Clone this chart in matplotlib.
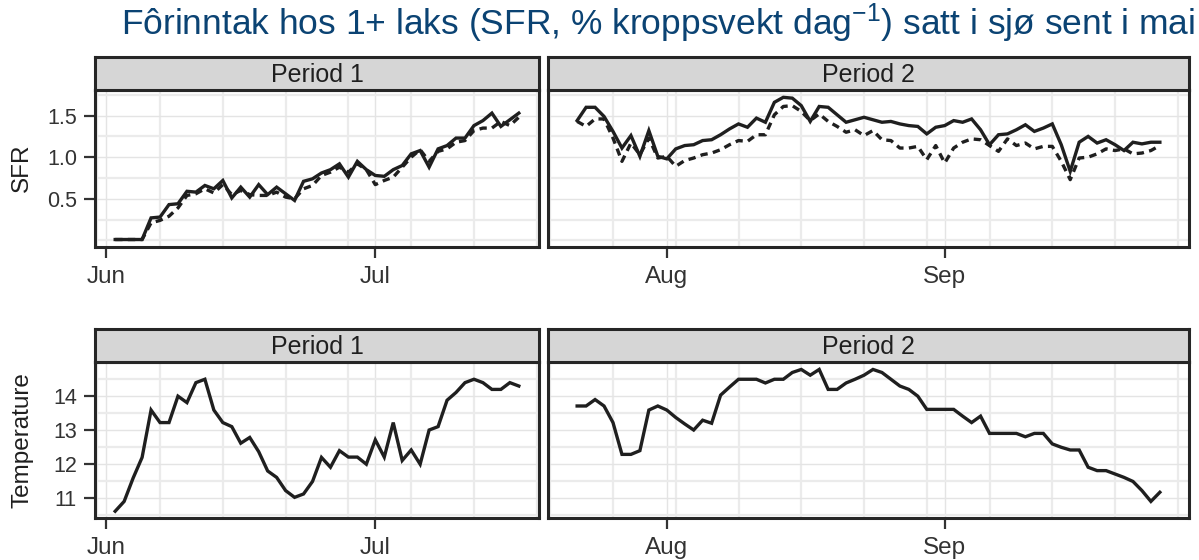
import matplotlib

matplotlib.use("Agg")

import matplotlib.dates as mdates
import matplotlib.pyplot as plt
import pandas as pd

plt.rcParams["font.family"] = ["Liberation Sans", "DejaVu Sans"]
plt.rcParams["mathtext.fontset"] = "custom"
plt.rcParams["mathtext.rm"] = "Liberation Sans"
plt.rcParams["mathtext.default"] = "regular"

# --- data (daily values) ---
p1_start, p1_end = "2015-06-02", "2015-07-17"
p2_start, p2_end = "2015-07-22", "2015-09-25"

sfr1_solid = [0.01, 0.01, 0.01, 0.01, 0.27, 0.28, 0.43, 0.44, 0.59, 0.58,
              0.66, 0.62, 0.72, 0.51, 0.64, 0.52, 0.67, 0.55, 0.64, 0.56,
              0.48, 0.71, 0.74, 0.81, 0.85, 0.92, 0.76, 0.95, 0.85, 0.78,
              0.77, 0.85, 0.90, 1.04, 1.08, 0.88, 1.10, 1.14, 1.23, 1.23,
              1.38, 1.44, 1.53, 1.37, 1.45, 1.53]
sfr1_dashed = [0.01, 0.01, 0.01, 0.01, 0.21, 0.24, 0.29, 0.39, 0.54, 0.56,
               0.62, 0.57, 0.67, 0.55, 0.60, 0.55, 0.54, 0.54, 0.58, 0.52,
               0.50, 0.62, 0.66, 0.78, 0.82, 0.88, 0.82, 0.92, 0.85, 0.67,
               0.72, 0.76, 0.88, 1.00, 1.09, 0.95, 1.07, 1.10, 1.18, 1.20,
               1.32, 1.35, 1.35, 1.43, 1.38, 1.48]
sfr2_solid = [1.44, 1.60, 1.60, 1.49, 1.31, 1.11, 1.26, 1.01, 1.32, 1.01,
              0.98, 1.10, 1.14, 1.15, 1.20, 1.21, 1.27, 1.34, 1.40, 1.36,
              1.47, 1.42, 1.66, 1.72, 1.71, 1.62, 1.43, 1.61, 1.60, 1.51,
              1.42, 1.45, 1.48, 1.45, 1.42, 1.43, 1.40, 1.38, 1.37, 1.28,
              1.36, 1.38, 1.44, 1.42, 1.46, 1.33, 1.15, 1.27, 1.28, 1.33,
              1.39, 1.31, 1.35, 1.40, 1.15, 0.83, 1.18, 1.25, 1.17, 1.21,
              1.15, 1.08, 1.18, 1.16, 1.18, 1.18]
sfr2_dashed = [1.43, 1.37, 1.46, 1.46, 1.23, 0.95, 1.17, 1.03, 1.23, 0.99,
               1.01, 0.89, 0.96, 0.99, 1.03, 1.05, 1.09, 1.15, 1.20, 1.19,
               1.27, 1.27, 1.51, 1.61, 1.62, 1.55, 1.44, 1.52, 1.43, 1.37,
               1.30, 1.33, 1.26, 1.32, 1.21, 1.20, 1.11, 1.11, 1.13, 0.97,
               1.14, 0.93, 1.11, 1.18, 1.22, 1.21, 1.14, 1.07, 1.22, 1.14,
               1.17, 1.10, 1.13, 1.13, 0.95, 0.73, 0.99, 1.00, 1.04, 1.10,
               1.08, 1.10, 1.04, 1.05, 1.08, 1.14]
temp1 = [10.60, 10.89, 11.58, 12.19, 13.59, 13.22, 13.22, 14.00, 13.81, 14.40,
         14.50, 13.59, 13.22, 13.10, 12.61, 12.78, 12.36, 11.79, 11.60, 11.21,
         11.01, 11.11, 11.48, 12.19, 11.90, 12.39, 12.20, 12.20, 11.99, 12.71,
         12.20, 13.22, 12.10, 12.41, 11.99, 13.00, 13.10, 13.88, 14.11, 14.40,
         14.50, 14.40, 14.20, 14.20, 14.40, 14.30]
temp2 = [13.71, 13.71, 13.90, 13.71, 13.22, 12.28, 12.28, 12.39, 13.59, 13.71,
         13.59, 13.37, 13.18, 13.00, 13.29, 13.20, 14.03, 14.27, 14.50, 14.50,
         14.50, 14.39, 14.50, 14.50, 14.70, 14.79, 14.62, 14.79, 14.20, 14.20,
         14.39, 14.50, 14.62, 14.79, 14.70, 14.50, 14.30, 14.20, 14.00, 13.61,
         13.61, 13.61, 13.61, 13.41, 13.22, 13.41, 12.90, 12.90, 12.90, 12.90,
         12.80, 12.90, 12.90, 12.59, 12.49, 12.41, 12.41, 11.90, 11.80, 11.80,
         11.70, 11.60, 11.48, 11.21, 10.89, 11.16]

sfr_ticks = [0.5, 1.0, 1.5]
sfr_minor = [0.0, 0.25, 0.75, 1.25, 1.75]
temp_ticks = [11, 12, 13, 14]
temp_minor = [10.5, 11.5, 12.5, 13.5, 14.5]

W, H = 1199, 560
INK = "#1f1f1f"
BORDER = "#262626"
GRID = "#ebebeb"

fig = plt.figure(figsize=(W / 100, H / 100), dpi=100)


def px_axes(x0, y0, x1, y1):
    return fig.add_axes([x0 / W, 1 - y1 / H, (x1 - x0) / W, (y1 - y0) / H])


def strip(x0, x1, y0, y1, label):
    s = px_axes(x0, y0, x1, y1)
    s.set_facecolor("#d6d6d6")
    s.set_xticks([])
    s.set_yticks([])
    for sp in s.spines.values():
        sp.set_color(BORDER)
        sp.set_linewidth(2.2)
    s.text(0.5, 0.45, label, ha="center", va="center", fontsize=18, color=INK,
           transform=s.transAxes)


def panel(box, xlim, ylim, ticks, minor, show_y):
    ax = px_axes(*box)
    ax.set_xlim(pd.Timestamp(xlim[0]), pd.Timestamp(xlim[1]))
    ax.set_ylim(*ylim)
    ax.xaxis.set_major_locator(mdates.MonthLocator())
    ax.xaxis.set_major_formatter(mdates.DateFormatter("%b"))
    ax.xaxis.set_minor_locator(mdates.WeekdayLocator(byweekday=mdates.SU))
    ax.set_yticks(ticks)
    ax.set_yticks(minor, minor=True)
    ax.grid(True, which="major", color="#e4e4e4", linewidth=1.0)
    ax.grid(True, which="minor", color=GRID, linewidth=1.6)
    ax.set_axisbelow(True)
    ax.tick_params(which="minor", length=0)
    ax.tick_params(axis="x", which="major", length=8, width=1.6, color="#333333",
                   labelsize=17.5, labelcolor="#333333", pad=6)
    ax.tick_params(axis="y", which="major", length=8, width=1.6, color="#333333",
                   labelsize=15.5, labelcolor="#333333", pad=5, left=show_y,
                   labelleft=show_y)
    for sp in ax.spines.values():
        sp.set_color(BORDER)
        sp.set_linewidth(2.2)
    return ax


xl1 = ("2015-05-30 18:00", "2015-07-19 06:00")
xl2 = ("2015-07-18 18:00", "2015-09-28 06:00")
d1 = pd.date_range(p1_start, p1_end)
d2 = pd.date_range(p2_start, p2_end)

L1, R1, L2, R2 = 95, 539, 548, 1189
top_box_y = (90, 247)
bot_box_y = (362, 518)

sfr_lim = (-0.08, 1.808)
temp_lim = (10.40, 15.01)

dash_style = dict(color=INK, linewidth=2.4, linestyle=(0, (2.2, 1.6)))
solid_style = dict(color=INK, linewidth=2.4, solid_joinstyle="miter")

a = panel((L1, top_box_y[0], R1, top_box_y[1]), xl1, sfr_lim, sfr_ticks, sfr_minor, True)
a.plot(d1, sfr1_dashed, **dash_style)
a.plot(d1, sfr1_solid, **solid_style)
a.set_yticklabels(["0.5", "1.0", "1.5"])

b = panel((L2, top_box_y[0], R2, top_box_y[1]), xl2, sfr_lim, sfr_ticks, sfr_minor, False)
b.plot(d2, sfr2_dashed, **dash_style)
b.plot(d2, sfr2_solid, **solid_style)

c = panel((L1, bot_box_y[0], R1, bot_box_y[1]), xl1, temp_lim, temp_ticks, temp_minor, True)
c.plot(d1, temp1, **solid_style)

e = panel((L2, bot_box_y[0], R2, bot_box_y[1]), xl2, temp_lim, temp_ticks, temp_minor, False)
e.plot(d2, temp2, **solid_style)

strip(L1, R1, 57, 90, "Period 1")
strip(L2, R2, 57, 90, "Period 2")
strip(L1, R1, 329, 362, "Period 1")
strip(L2, R2, 329, 362, "Period 2")

fig.text(22 / W, 1 - 168 / H, "SFR", rotation=90, ha="center", va="center",
         fontsize=17.5, color=INK)
fig.text(22 / W, 1 - 440 / H, "Temperature", rotation=90, ha="center", va="center",
         fontsize=17.5, color=INK)

fig.text(1195 / W, 1 - 35 / H,
         "Fôrinntak hos 1+ laks (SFR, % kroppsvekt dag$^{-1}$) satt i sjø sent i mai",
         ha="right", va="baseline", fontsize=25.5, color="#0b4373")

fig.savefig("out.png", dpi=100)
plt.close(fig)
